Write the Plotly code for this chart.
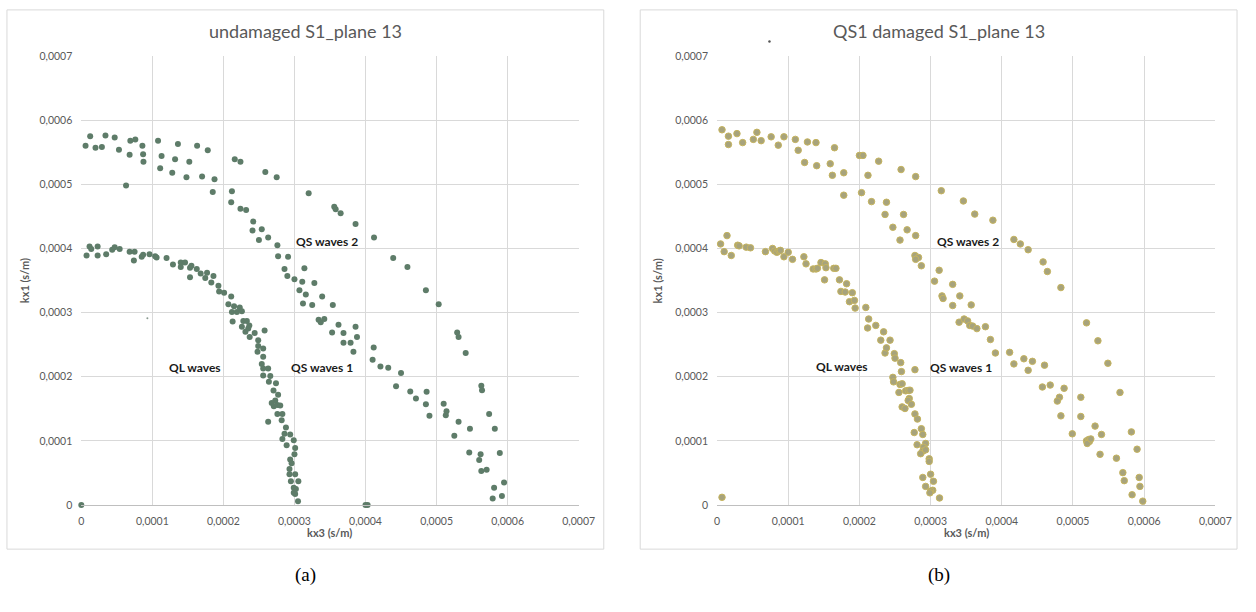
import numpy as np
import plotly.graph_objects as go

W, H = 1256, 612

# ---------------- data (units of 1e-4 s/m) ----------------
left_ql_x = [0.0, 0.074, 0.116, 0.14, 0.23, 0.23, 0.35, 0.435, 0.47, 0.54, 0.68, 0.74, 0.75, 0.85, 0.87, 0.96, 1.04, 1.06,
             1.20, 1.29, 1.40, 1.40, 1.46, 1.53, 1.53, 1.55, 1.625, 1.68, 1.745, 1.77, 1.86, 1.83, 1.93, 1.94, 2.01, 2.11,
             2.07, 2.15, 2.23, 2.12, 2.19, 2.26, 2.13, 2.28, 2.33, 2.26, 2.365, 2.35, 2.31, 2.37, 2.44, 2.58, 2.49, 2.49,
             2.56, 2.48, 2.56, 2.54, 2.56, 2.63, 2.56, 2.66, 2.64, 2.74,
             2.705, 2.77, 2.68, 2.71, 2.73, 2.76, 2.80, 2.76, 2.83, 2.63, 2.82, 2.88, 2.86, 2.94, 2.83, 2.99, 2.89, 3.01,
             3.00, 2.94, 2.96, 2.93, 3.01, 2.93, 3.055, 2.95, 2.99, 3.02, 2.99, 3.01, 3.05, 4.00, 4.03]
left_ql_y = [0.0, 3.89, 4.03, 3.99, 4.03, 3.89, 3.91, 3.98, 4.02, 3.99, 3.95, 3.81, 3.95, 3.87, 3.90, 3.91, 3.88, 3.86,
             3.85, 3.75, 3.78, 3.71, 3.78, 3.55, 3.70, 3.73, 3.68, 3.61, 3.54, 3.62, 3.57, 3.47, 3.42, 3.33, 3.31, 3.25,
             3.13, 3.10, 3.08, 3.01, 3.01, 3.02, 2.86, 2.87, 2.87, 2.78, 2.80, 2.75, 2.70, 2.62, 2.68, 2.72, 2.57, 2.48,
             2.44, 2.39, 2.31, 2.20, 2.13, 2.13, 2.02, 2.01, 1.92, 1.90,
             1.786, 1.72, 1.59, 1.54, 1.63, 1.56, 1.55, 1.42, 1.42, 1.30, 1.32, 1.21, 1.11, 1.10, 1.03, 1.01, 0.93, 0.89,
             0.79, 0.71, 0.65, 0.56, 0.48, 0.48, 0.37, 0.37, 0.27, 0.25, 0.19, 0.17, 0.06, 0.0, 0.0]

left_qs_x = [0.06, 0.125, 0.20, 0.29, 0.34, 0.47, 0.53, 0.63, 0.68, 0.69, 0.76, 0.86, 0.87, 0.875, 1.08, 1.13, 1.11, 1.28,
             1.32, 1.36, 1.48, 1.52, 1.63, 1.70, 1.78, 1.85, 1.875, 2.12, 2.11, 2.16, 2.24, 2.24, 2.32, 2.42, 2.41, 2.50,
             2.54, 2.59, 2.63, 2.75, 2.76, 3.20, 3.56, 3.58, 3.65, 3.86,
             2.77, 2.91, 2.86, 2.90, 3.00, 3.14, 3.11, 3.28, 3.07, 3.16, 3.12, 3.25, 3.39, 3.54, 3.34, 3.37, 3.42, 3.62,
             3.53, 3.69, 3.86, 3.69, 3.79, 3.83, 3.88,
             4.115, 4.10, 4.21, 4.32, 4.50, 4.43, 4.63, 4.86, 4.71, 4.85, 4.90, 5.10, 5.13,
             4.12, 4.39, 4.59, 4.85, 5.03, 5.29, 5.31, 5.41,
             5.14, 5.63, 5.64, 5.31, 5.47, 5.25, 5.74, 5.82, 5.46, 5.62, 5.60, 5.89, 5.63, 5.705, 5.95, 5.81, 5.79, 5.92]
left_qs_y = [5.60, 5.75, 5.57, 5.58, 5.76, 5.73, 5.54, 4.98, 5.46, 5.68, 5.70, 5.60, 5.47, 5.35, 5.68, 5.44, 5.25, 5.18,
             5.39, 5.63, 5.11, 5.35, 5.60, 5.12, 5.53, 4.88, 5.08, 4.89, 4.72, 5.39, 5.35, 4.62, 4.60, 4.42, 4.28, 4.13,
             4.30, 5.19, 4.17, 5.11, 4.05, 4.86, 4.65, 4.61, 4.55, 4.38,
             3.88, 3.87, 3.68, 3.57, 3.52, 3.69, 3.48, 3.46, 3.35, 3.28, 3.14, 3.12, 3.25, 3.12, 2.89, 2.85, 2.90, 2.81,
             2.69, 2.68, 2.78, 2.53, 2.53, 2.39, 2.62,
             2.454, 2.265, 2.16, 2.14, 2.06, 1.85, 1.77, 1.765, 1.66, 1.57, 1.39, 1.58, 1.40,
             4.17, 3.85, 3.71, 3.35, 3.13, 2.69, 2.62, 2.37,
             1.46, 1.86, 1.79, 1.30, 1.19, 1.08, 1.42, 1.19, 0.82, 0.79, 0.70, 0.81, 0.53, 0.55, 0.35, 0.27, 0.10, 0.14]

right_ql_x = [0.07, 0.05, 0.10, 0.20, 0.14, 0.29, 0.31, 0.41, 0.47, 0.68, 0.78, 0.81, 0.84, 0.87, 0.89, 0.94, 1.00, 1.06,
              1.22, 1.25, 1.35, 1.39, 1.41, 1.46, 1.52, 1.53, 1.51, 1.64, 1.67, 1.72, 1.74, 1.80, 1.82, 1.90, 1.86, 1.93,
              1.94, 2.09, 2.13, 2.115, 2.23, 2.34, 2.30, 2.43, 2.36, 2.38, 2.49, 2.50, 2.58, 2.59, 2.47, 2.48, 2.57, 2.60,
              2.78,
              2.555, 2.65, 2.685, 2.71, 2.70, 2.685, 2.73, 2.60, 2.64, 2.78, 2.815, 2.87, 2.89, 2.77, 2.93, 2.81, 2.90,
              2.89, 2.86, 2.93, 2.98, 2.98, 3.00, 2.89, 3.04, 2.93, 3.03, 3.00, 2.99, 3.125]
right_ql_y = [0.12, 4.07, 3.95, 3.89, 4.20, 4.05, 4.04, 4.02, 4.01, 3.95, 4.00, 3.96, 3.94, 3.96, 3.97, 3.87, 3.94, 3.83,
              3.87, 3.76, 3.68, 3.68, 3.69, 3.78, 3.76, 3.70, 3.51, 3.69, 3.69, 3.51, 3.33, 3.32, 3.45, 3.31, 3.17, 3.19,
              3.07, 3.08, 2.90, 2.76, 2.80, 2.70, 2.57, 2.57, 2.37, 2.45, 2.36, 2.29, 2.22, 2.08, 1.99, 1.92, 1.88, 1.89,
              2.11,
              1.755, 1.78, 1.786, 1.79, 1.66, 1.63, 1.57, 1.53, 1.505, 1.42, 1.34, 1.19, 1.10, 1.13, 0.96, 0.94, 0.90,
              0.84, 0.80, 0.86, 0.72, 0.68, 0.48, 0.43, 0.37, 0.29, 0.23, 0.22, 0.19, 0.11]

right_qs_x = [0.07, 0.16, 0.16, 0.28, 0.36, 0.51, 0.56, 0.62, 0.76, 0.86, 0.94, 1.10, 1.14, 1.23, 1.27, 1.39, 1.40, 1.59,
              1.62, 1.65, 1.78, 1.78, 2.00, 2.05, 2.03, 2.12, 2.17, 2.27, 2.36, 2.38, 2.47, 2.585, 2.57, 2.62, 2.67, 2.79,
              2.79, 3.15, 3.46, 3.62,
              3.875, 4.17, 4.26, 4.37, 4.58, 4.64, 4.83, 5.19, 5.35, 5.49,
              2.78, 2.83, 2.79, 2.87, 3.055, 3.12, 3.16, 3.175, 3.31, 3.31, 3.41, 3.57, 3.40, 3.47, 3.52, 3.55, 3.59, 3.65,
              3.77,
              3.84, 3.91, 4.11, 4.17, 4.31, 4.37, 4.43, 4.60,
              4.57, 4.68, 4.875, 4.81, 4.78, 4.83, 4.99,
              5.11, 5.11, 5.31, 5.40, 5.66, 5.82, 5.19, 5.22, 5.23, 5.20, 5.25, 5.38, 5.61, 5.90, 5.70, 5.72, 5.93, 5.94,
              5.83, 5.98]
right_qs_y = [5.85, 5.75, 5.62, 5.79, 5.65, 5.70, 5.81, 5.68, 5.74, 5.61, 5.74, 5.70, 5.53, 5.34, 5.66, 5.65, 5.29, 5.32,
              5.14, 5.57, 5.18, 4.83, 5.45, 5.45, 4.87, 5.14, 4.73, 5.36, 4.53, 4.72, 4.33, 5.23, 4.13, 4.53, 4.29, 5.12,
              4.20, 4.90, 4.74, 4.535,
              4.44, 4.14, 4.07, 3.98, 3.79, 3.64, 3.39, 2.84, 2.56, 2.21,
              3.89, 3.86, 3.83, 3.73, 3.49, 3.66, 3.26, 3.22, 3.44, 3.11, 3.26, 3.12, 2.85, 2.90, 2.87, 2.80, 2.79, 2.75,
              2.78,
              2.58, 2.37, 2.38, 2.20, 2.28, 2.10, 2.24, 2.18,
              1.84, 1.87, 1.82, 1.68, 1.62, 1.39, 1.11,
              1.68, 1.38, 1.23, 1.10, 1.755, 1.14, 1.00, 1.02, 0.99, 0.96, 1.03, 0.79, 0.73, 0.87, 0.505, 0.38, 0.43, 0.29,
              0.16, 0.06]

tick_vals = [0, 1, 2, 3, 4, 5, 6, 7]
tick_text = ["0", "0,0001", "0,0002", "0,0003", "0,0004", "0,0005", "0,0006", "0,0007"]
titles = ["undamaged S1_plane 13", "QS1 damaged S1_plane 13"]
panel_tags = ["(a)", "(b)"]
wave_labels = ["QL waves", "QS waves 1", "QS waves 2"]

SCALE = 1e-4

# ---------------- layout helpers ----------------
def px(x):
    return x / W

def py(y):
    return 1 - y / H

GRAY = "#595959"
FONT = "Lato"

panels = [
    dict(x0=79.5, x1=584.5, box=(4, 4, 610, 554), xa="x", ya="y",
         color="#5E7C69", line=None, size=6),
    dict(x0=725, x1=1231, box=(647, 4, 1253, 554), xa="x2", ya="y2",
         color="#A7A37C", line="#C6B45E", size=6.5),
]
Y0, Y1 = 509, 51

fig = go.Figure()

data = [(left_ql_x + left_qs_x, left_ql_y + left_qs_y),
        (right_ql_x + right_qs_x, right_ql_y + right_qs_y)]

for p, (xs, ys) in zip(panels, data):
    marker = dict(color=p["color"], size=p["size"])
    if p["line"]:
        marker["line"] = dict(color=p["line"], width=1)
    else:
        marker["line"] = dict(width=0)
    fig.add_trace(go.Scatter(x=np.array(xs) * SCALE, y=np.array(ys) * SCALE, mode="markers",
                             marker=marker, xaxis=p["xa"], yaxis=p["ya"], cliponaxis=False,
                             showlegend=False, hoverinfo="skip"))

# stray tiny dot in panel (a)
fig.add_trace(go.Scatter(x=[0.93 * SCALE], y=[2.91 * SCALE], mode="markers",
                         marker=dict(color="#8a9a90", size=2), xaxis="x", yaxis="y",
                         showlegend=False, hoverinfo="skip"))

axis_common = dict(range=[0, 7 * SCALE], tickvals=[v * SCALE for v in tick_vals], ticktext=tick_text,
                   showgrid=True, gridcolor="#D9D9D9", gridwidth=1, zeroline=False,
                   tickfont=dict(family=FONT, size=10.5, color=GRAY), ticks="", fixedrange=True)

layout = dict(width=W, height=H, margin=dict(l=0, r=0, t=0, b=0),
              paper_bgcolor="white", plot_bgcolor="white", showlegend=False)

for i, p in enumerate(panels):
    sfx = "" if i == 0 else "2"
    layout["xaxis" + sfx] = dict(axis_common, domain=[px(p["x0"]), px(p["x1"])], anchor="y" + sfx,
                                 showline=True, linecolor="#BFBFBF", linewidth=1, mirror=False,
                                 ticklabelstandoff=6)
    layout["yaxis" + sfx] = dict(axis_common, domain=[py(Y0), py(Y1)], anchor="x" + sfx,
                                 showline=False, ticklabelstandoff=8)

fig.update_layout(**layout)

shapes = []
annotations = []
for i, p in enumerate(panels):
    bx0, by0, bx1, by1 = p["box"]
    shapes.append(dict(type="rect", xref="paper", yref="paper", x0=px(bx0), x1=px(bx1), y0=py(by1), y1=py(by0),
                       line=dict(color="#D9D9D9", width=1), fillcolor="rgba(0,0,0,0)", layer="below"))
    cx = (bx0 + bx1) / 2
    annotations.append(dict(text=titles[i], xref="paper", yref="paper", x=px(cx), y=py(25), showarrow=False,
                            font=dict(family=FONT, size=18, color=GRAY), xanchor="center", yanchor="middle"))
    pcx = (p["x0"] + p["x1"]) / 2
    annotations.append(dict(text="<b>kx3 (s/m)</b>", xref="paper", yref="paper", x=px(pcx), y=py(537),
                            showarrow=False, font=dict(family=FONT, size=11, color=GRAY),
                            xanchor="center", yanchor="middle"))
    annotations.append(dict(text="<b>kx1 (s/m)</b>", xref="paper", yref="paper", x=px(bx0 + 18), y=py((Y0 + Y1) / 2),
                            showarrow=False, textangle=-90, font=dict(family=FONT, size=11, color=GRAY),
                            xanchor="center", yanchor="middle"))
    annotations.append(dict(text=panel_tags[i], xref="paper", yref="paper", x=px(cx), y=py(580), showarrow=False,
                            font=dict(family="Liberation Serif", size=19, color="black"),
                            xanchor="center", yanchor="middle"))

# small stray speck left of the title in panel (b)
shapes.append(dict(type="circle", xref="paper", yref="paper", x0=px(777), x1=px(779.5), y0=py(37.5), y1=py(35),
                   line=dict(width=0), fillcolor="#555555"))

label_pos = [
    [(1.60, 2.15), (3.39, 2.15), (3.46, 4.11)],
    [(1.75, 2.16), (3.43, 2.14), (3.53, 4.11)],
]
for i, p in enumerate(panels):
    for txt, (lx, ly) in zip(wave_labels, label_pos[i]):
        annotations.append(dict(text="<b>" + txt + "</b>", xref=p["xa"], yref=p["ya"], x=lx * SCALE, y=ly * SCALE,
                                showarrow=False, font=dict(family=FONT, size=12, color="#1a1a1a"),
                                xanchor="center", yanchor="middle"))

fig.update_layout(shapes=shapes, annotations=annotations)
fig.write_html("out.html", config={"displayModeBar": False},
               post_script="document.body.style.margin='0px'; document.body.style.overflow='hidden';")
